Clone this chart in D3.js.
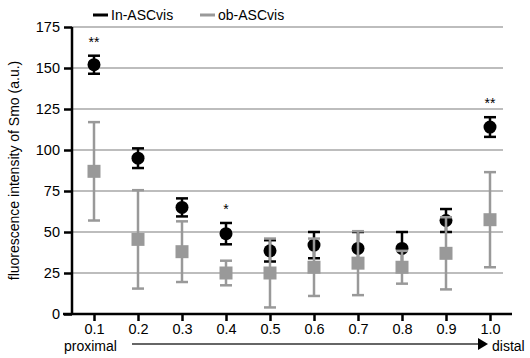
<!DOCTYPE html>
<html lang="en">
<head>
<meta charset="UTF-8">
<title></title>
<script src="https://cdn.jsdelivr.net/npm/d3@7"></script>
<style>
  body { margin: 0; background: #fff; }
  text { font-family: "Liberation Sans", Arial, sans-serif; fill: #000; }
</style>
</head>
<body>
<svg class="chart"></svg>
<script>
  // data
  const positions = ['0.1', '0.2', '0.3', '0.4', '0.5', '0.6', '0.7', '0.8', '0.9', '1.0'];
  const inMean = [152, 95, 65, 49, 38.5, 42, 40, 40, 57, 114];
  const inErr  = [5.5, 6, 5.5, 6.5, 6.5, 8, 10, 10, 7, 6];
  const obMean = [87, 45.5, 38, 25, 25, 28.5, 31, 28.5, 37, 57.5];
  const obErr  = [30, 30, 18.5, 7.5, 21, 17.5, 19.5, 10, 22, 29];
  const yTicks = [0, 25, 50, 75, 100, 125, 150, 175];
  const stars = [{ i: 0, t: '**' }, { i: 3, t: '*' }, { i: 9, t: '**' }];

  const width = 530, height = 358;
  const plotL = 72, plotR = 512, plotT = 27, plotB = 314;
  const black = '#000', gray = '#999';

  const svg = d3.select('.chart').attr('width', width).attr('height', height);

  const x = d3.scalePoint().domain(positions).range([plotL, plotR]).padding(0.5);
  const y = d3.scaleLinear().domain([0, 175]).range([plotB, plotT]);

  // grid lines
  svg.append('g').selectAll('line')
     .data(yTicks.filter(d => d > 0))
     .enter().append('line')
     .attr('x1', plotL).attr('x2', 503)
     .attr('y1', d => y(d)).attr('y2', d => y(d))
     .attr('stroke', '#bdbdbd').attr('stroke-width', 2);

  // error bars + markers
  function drawSeries(mean, err, color, shape) {
    const g = svg.append('g');
    const rows = positions.map((p, i) => ({ p, m: mean[i], e: err[i] }));
    const cw = 6;
    rows.forEach(d => {
      const cx = x(d.p);
      g.append('line').attr('x1', cx).attr('x2', cx)
       .attr('y1', y(d.m - d.e)).attr('y2', y(d.m + d.e))
       .attr('stroke', color).attr('stroke-width', 2.5);
      [d.m - d.e, d.m + d.e].forEach(v => {
        g.append('line').attr('x1', cx - cw).attr('x2', cx + cw)
         .attr('y1', y(v)).attr('y2', y(v))
         .attr('stroke', color).attr('stroke-width', 2.5);
      });
      if (shape === 'circle') {
        g.append('circle').attr('cx', cx).attr('cy', y(d.m)).attr('r', 6.5).attr('fill', color);
      } else {
        g.append('rect').attr('x', cx - 6.5).attr('y', y(d.m) - 6.5)
         .attr('width', 13).attr('height', 13).attr('fill', color);
      }
    });
  }
  drawSeries(inMean, inErr, black, 'circle');
  drawSeries(obMean, obErr, gray, 'square');

  // significance stars
  svg.append('g').selectAll('text')
     .data(stars).enter().append('text')
     .attr('x', d => x(positions[d.i]))
     .attr('y', d => y(inMean[d.i] + inErr[d.i]) - 9)
     .attr('text-anchor', 'middle')
     .attr('fill', black)
     .style('font-size', '14px')
     .text(d => d.t);

  // axes
  const yAxis = svg.append('g').attr('transform', `translate(${plotL},0)`)
     .call(d3.axisLeft(y).tickValues(yTicks).tickSize(8).tickPadding(4).tickSizeOuter(0));
  const xAxis = svg.append('g').attr('transform', `translate(0,${plotB})`)
     .call(d3.axisBottom(x).tickSize(7).tickPadding(3).tickSizeOuter(0));
  [yAxis, xAxis].forEach(a => {
    a.selectAll('.domain, .tick line').attr('stroke', black).attr('stroke-width', 2.5);
    a.selectAll('.tick text').style('font-size', '14.5px').attr('fill', black)
     .style('font-family', '"Liberation Sans", Arial, sans-serif');
  });
  xAxis.select('.domain').attr('d', `M${plotL - 9},0H${plotR}`);
  yAxis.select('.domain').attr('d', `M0,${plotT}V${plotB}`);

  // y label
  svg.append('text')
     .attr('transform', `translate(19,${(plotT + plotB) / 2}) rotate(-90)`)
     .attr('text-anchor', 'middle')
     .style('font-size', '14px')
     .text('fluorescence intensity of Smo (a.u.)');

  // proximal -> distal arrow
  svg.append('text').attr('x', 64).attr('y', 351).style('font-size', '14px').text('proximal');
  svg.append('line').attr('x1', 132).attr('x2', 480).attr('y1', 344).attr('y2', 344)
     .attr('stroke', '#333').attr('stroke-width', 1.5);
  svg.append('path').attr('d', 'M478,338L488,344L478,350Z').attr('fill', black);
  svg.append('text').attr('x', 492).attr('y', 351).style('font-size', '14px').text('distal');

  // legend
  const legend = [{ name: 'In-ASCvis', color: black, x: 93 }, { name: 'ob-ASCvis', color: gray, x: 200 }];
  const lg = svg.append('g').selectAll('g').data(legend).enter().append('g');
  lg.append('line').attr('x1', d => d.x).attr('x2', d => d.x + 15).attr('y1', 15).attr('y2', 15)
    .attr('stroke', d => d.color).attr('stroke-width', 3);
  lg.append('text').attr('x', d => d.x + 18).attr('y', 20).style('font-size', '14px').text(d => d.name);
</script>
</body>
</html>
